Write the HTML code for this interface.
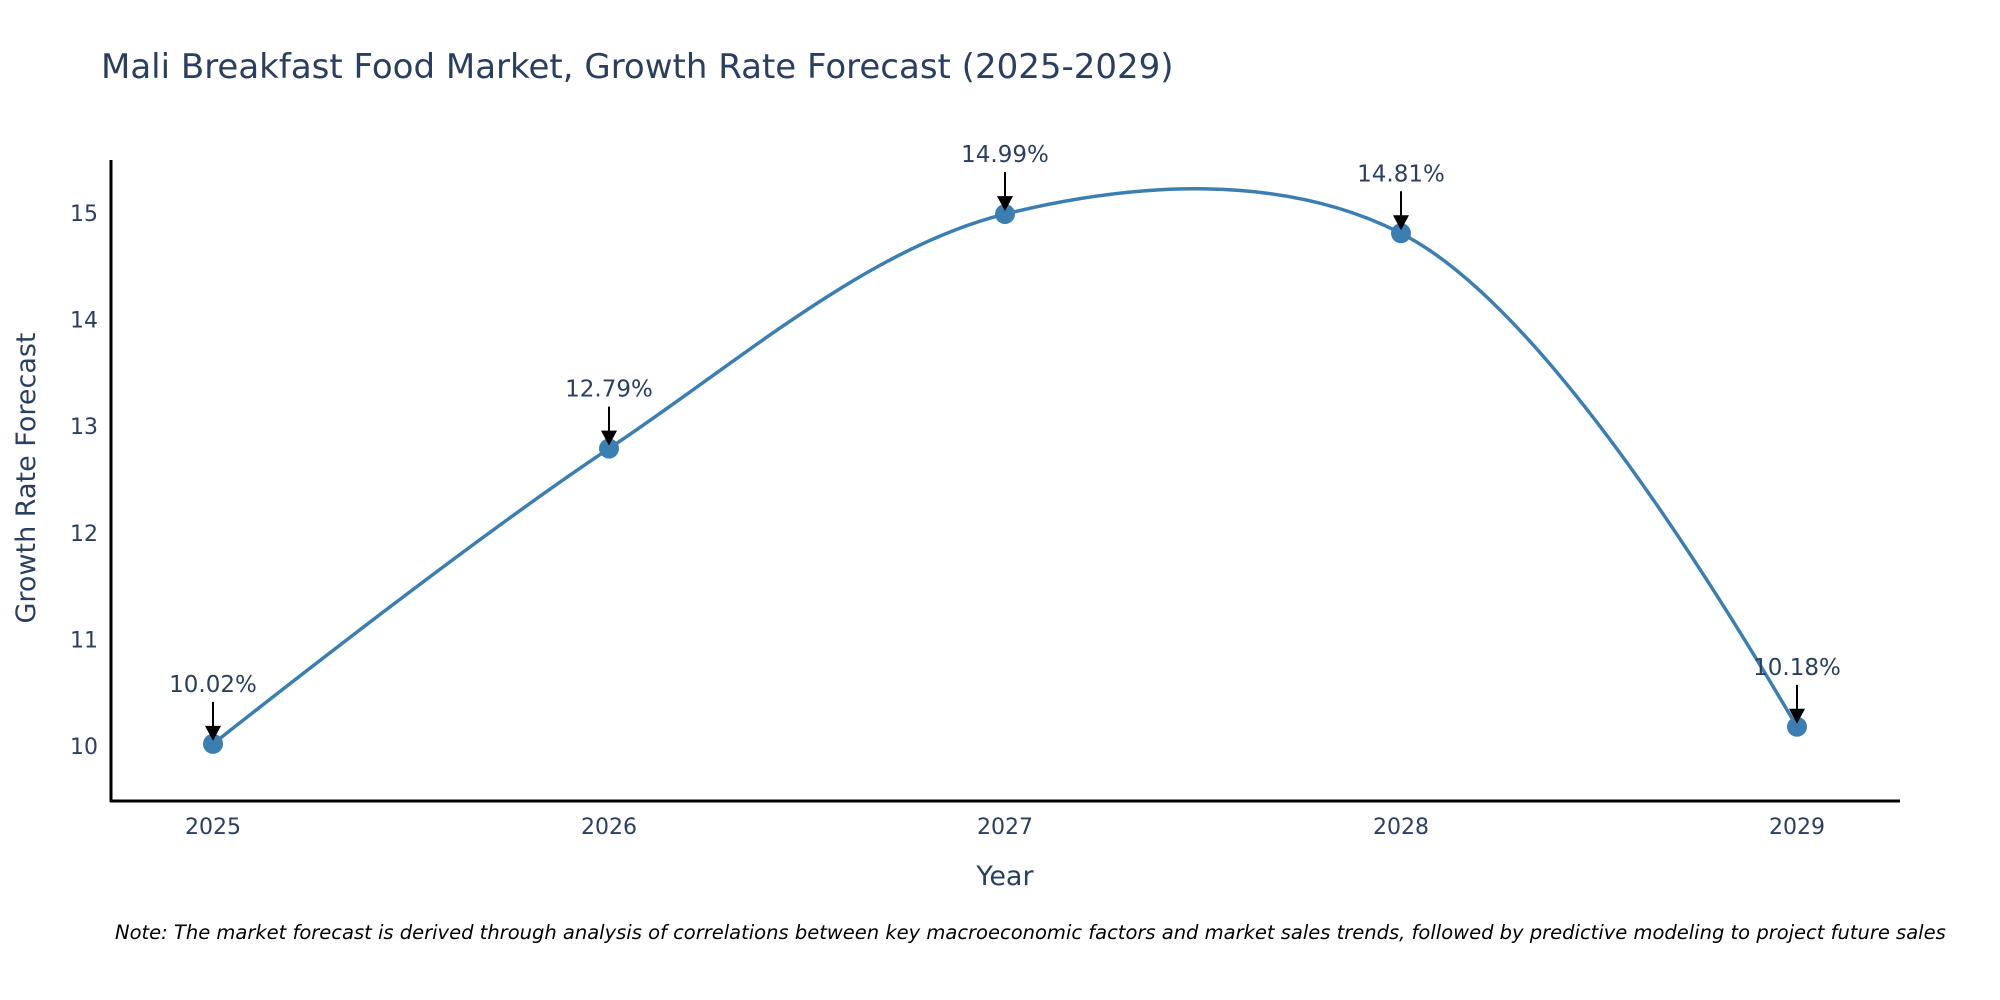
<!DOCTYPE html>
<html><head><meta charset="utf-8"><style>
body{margin:0;background:#fff;}
svg{display:block;font-family:"DejaVu Sans","Liberation Sans",sans-serif;}
</style></head><body>
<svg id="chart" width="2000" height="1000" viewBox="0 0 2000 1000">
<text x="101" y="78" font-size="34" fill="#2a3f5f">Mali Breakfast Food Market, Growth Rate Forecast (2025-2029)</text>
<g id="yticks"></g>
<g id="xticks"></g>
<line x1="111" y1="160" x2="111" y2="802" stroke="#000" stroke-width="3"/>
<line x1="110" y1="801" x2="1900" y2="801" stroke="#000" stroke-width="3"/>
<text x="1005" y="885" font-size="27" fill="#2a3f5f" text-anchor="middle">Year</text>
<text transform="translate(35,478) rotate(-90)" font-size="27" fill="#2a3f5f" text-anchor="middle">Growth Rate Forecast</text>
<path id="line" fill="none" stroke="#3b7fb2" stroke-width="3.5"/>
<g id="points"></g>
<g id="annots"></g>
<text x="115" y="939" font-size="19.5" font-style="italic" fill="#000">Note: The market forecast is derived through analysis of correlations between key macroeconomic factors and market sales trends, followed by predictive modeling to project future sales</text>
</svg>
<script>
const years = [2025, 2026, 2027, 2028, 2029];
const growth = [10.02, 12.79, 14.99, 14.81, 10.18];
const labels = ["10.02%", "12.79%", "14.99%", "14.81%", "10.18%"];
const yTicks = [10, 11, 12, 13, 14, 15];

const NS = "http://www.w3.org/2000/svg";
function xs(v){ return 213 + (v - 2025) * 396; }
function ys(v){ return 746 - (v - 10) * 106.6; }
function mk(tag, attrs, parent){
  const e = document.createElementNS(NS, tag);
  for (const k in attrs) e.setAttribute(k, attrs[k]);
  parent.appendChild(e); return e;
}
const yg = document.getElementById('yticks');
yTicks.forEach(t => {
  const el = mk('text', {x: 98, y: ys(t) + 8, 'font-size': 22, fill: '#2a3f5f', 'text-anchor': 'end'}, yg);
  
  
  el.textContent = t;
});
const xg = document.getElementById('xticks');
years.forEach(y => {
  const el = mk('text', {x: xs(y), y: 834, 'font-size': 22, fill: '#2a3f5f', 'text-anchor': 'middle'}, xg);
  
  
  el.textContent = y;
});
const pts = years.map((y, i) => [xs(y), ys(growth[i])]);
function tangent(a, b, c){
  const d1x = a[0]-b[0], d1y = a[1]-b[1], d2x = c[0]-b[0], d2y = c[1]-b[1];
  const d1a = Math.pow(d1x*d1x + d1y*d1y, 0.25), d2a = Math.pow(d2x*d2x + d2y*d2y, 0.25);
  const nx = d2a*d2a*d1x - d1a*d1a*d2x, ny = d2a*d2a*d1y - d1a*d1a*d2y;
  const den1 = 3*d2a*(d1a+d2a), den2 = 3*d1a*(d1a+d2a);
  return [[b[0]+nx/den1, b[1]+ny/den1], [b[0]-nx/den2, b[1]-ny/den2]];
}
const tg = [];
for (let i = 1; i < pts.length - 1; i++) tg.push(tangent(pts[i-1], pts[i], pts[i+1]));
let d = 'M' + pts[0] + 'Q' + tg[0][0] + ' ' + pts[1];
for (let i = 2; i < pts.length - 1; i++) d += 'C' + tg[i-2][1] + ' ' + tg[i-1][0] + ' ' + pts[i];
d += 'Q' + tg[pts.length-3][1] + ' ' + pts[pts.length-1];
document.getElementById('line').setAttribute('d', d);

const pg = document.getElementById('points');
const ag = document.getElementById('annots');
pts.forEach((p, i) => {
  const c = mk('circle', {cx: p[0], cy: p[1], r: 10, fill: '#3b7fb2'}, pg);
  
  
  const l = mk('line', {x1: p[0], y1: p[1]-42, x2: p[0], y2: p[1]-16, stroke: '#000', 'stroke-width': 2}, ag);
  
  
  const h = mk('polygon', {points: `${p[0]-8},${p[1]-18} ${p[0]+8},${p[1]-18} ${p[0]},${p[1]-3}`, fill: '#000'}, ag);
  
  
  const t = mk('text', {x: p[0], y: p[1]-52, 'font-size': 23, fill: '#2a3f5f', 'text-anchor': 'middle'}, ag);
  
  
  t.textContent = labels[i];
});
</script>
</body></html>
